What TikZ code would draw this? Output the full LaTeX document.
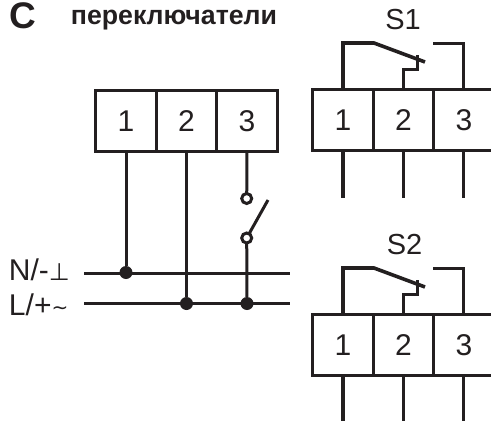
\documentclass[tikz,border=0pt]{standalone}
\usepackage{fontspec}
\setmainfont{Liberation Sans}
\newfontfamily\symfont{DejaVu Sans}
\definecolor{ink}{HTML}{231F20}
\tikzset{
  wire/.style={draw=ink,line width=3pt},
  thick wire/.style={draw=ink,line width=3.6pt},
  cell/.style={draw=ink,line width=3pt,minimum width=60.5pt,minimum height=61pt,inner sep=0pt,outer sep=0pt,text=ink,font=\fontsize{30}{32}\selectfont},
  lbl/.style={inner sep=0pt,outer sep=0pt,text=ink,font=\fontsize{29}{32}\selectfont},
  busl/.style={inner sep=0pt,outer sep=0pt,anchor=west,text=ink,font=\fontsize{30}{32}\selectfont},
  dot/.style={circle,fill=ink,minimum size=13pt,inner sep=0pt,outer sep=0pt},
  opn/.style={circle,draw=ink,fill=white,line width=3pt,minimum size=10pt,inner sep=0pt,outer sep=0pt},
}
\begin{document}
\begin{tikzpicture}[x=1pt,y=-1pt]
\useasboundingbox (0,0) rectangle (491,421);
\node[inner sep=0pt,anchor=center,text=ink,font=\fontsize{37}{40}\selectfont\bfseries] (C) at (22.5,16) {C};
\node[inner sep=0pt,anchor=center,text=ink,font=\fontsize{26.7}{30}\selectfont\bfseries] (title) at (174,20) {переключатели};

% main block
\node[cell] (a1) at (126,121) {1};
\node[cell] (a2) at (186.5,121) {2};
\node[cell] (a3) at (247,121) {3};
\node[busl] (nl) at (9,270) {N/-{\symfont\fontsize{24}{24}\selectfont ⊥}};
\node[busl] (ll) at (9,305) {L/+{\symfont\fontsize{20}{24}\selectfont \raisebox{1pt}{\char"223C}}};
\coordinate (n0) at (84,273.5); \coordinate (n1) at (290,273.5);
\coordinate (l0) at (84,303.5); \coordinate (l1) at (290,303.5);
\draw[wire] (n0) -- (n1);
\draw[wire] (l0) -- (l1);
\node[dot] (d1) at (126,272.5) {};
\node[dot] (d2) at (186.5,303.5) {};
\node[dot] (d3) at (247,303.5) {};
\node[opn] (o1) at (246.7,198.5) {};
\node[opn] (o2) at (246.7,238) {};
\coordinate (sw) at (268,200);
\draw[wire] (a1.south) -- (d1);
\draw[wire] (a2.south) -- (d2);
\draw[wire] (a3.south) -- (o1);
\draw[wire] (o2) -- (d3);
\draw[wire] (o2) -- (sw);

% S1
\node[cell] (b1) at (343,120) {1};
\node[cell] (b2) at (403.5,120) {2};
\node[cell] (b3) at (464,120) {3};
\node[lbl] (s1) at (403,20) {S1};
\coordinate (b1t) at (343,43); \coordinate (b1k) at (374,43); \coordinate (b1e) at (425,62);
\coordinate (b3a) at (433,43); \coordinate (b3t) at (463,43);
\coordinate (b2a) at (403,69); \coordinate (b2b) at (417,69); \coordinate (b2c) at (417,55);
\coordinate (b1d) at (343,198); \coordinate (b2d) at (403,198); \coordinate (b3d) at (463,198);
\draw[thick wire,line join=miter] (b1.north -| b1t) -- (b1t) -- (b1k) -- (b1e);
\draw[wire] (b3a) -- (b3t) -- (b3.north -| b3t);
\draw[wire] (b2.north -| b2a) -- (b2a) -- (b2b) -- (b2c);
\draw[thick wire] (b1.south -| b1d) -- (b1d);
\draw[wire] (b2.south -| b2d) -- (b2d);
\draw[wire] (b3.south -| b3d) -- (b3d);

% S2
\node[cell] (c1) at (343,345) {1};
\node[cell] (c2) at (403.5,345) {2};
\node[cell] (c3) at (464,345) {3};
\node[lbl] (s2) at (404.5,245) {S2};
\coordinate (c1t) at (343,268); \coordinate (c1k) at (374,268); \coordinate (c1e) at (425,287);
\coordinate (c3a) at (433,268); \coordinate (c3t) at (463,268);
\coordinate (c2a) at (403,294); \coordinate (c2b) at (417,294); \coordinate (c2c) at (417,280);
\coordinate (c1d) at (343,421); \coordinate (c2d) at (403,421); \coordinate (c3d) at (463,421);
\draw[thick wire,line join=miter] (c1.north -| c1t) -- (c1t) -- (c1k) -- (c1e);
\draw[wire] (c3a) -- (c3t) -- (c3.north -| c3t);
\draw[wire] (c2.north -| c2a) -- (c2a) -- (c2b) -- (c2c);
\draw[thick wire] (c1.south -| c1d) -- (c1d);
\draw[wire] (c2.south -| c2d) -- (c2d);
\draw[wire] (c3.south -| c3d) -- (c3d);
\end{tikzpicture}
\end{document}
